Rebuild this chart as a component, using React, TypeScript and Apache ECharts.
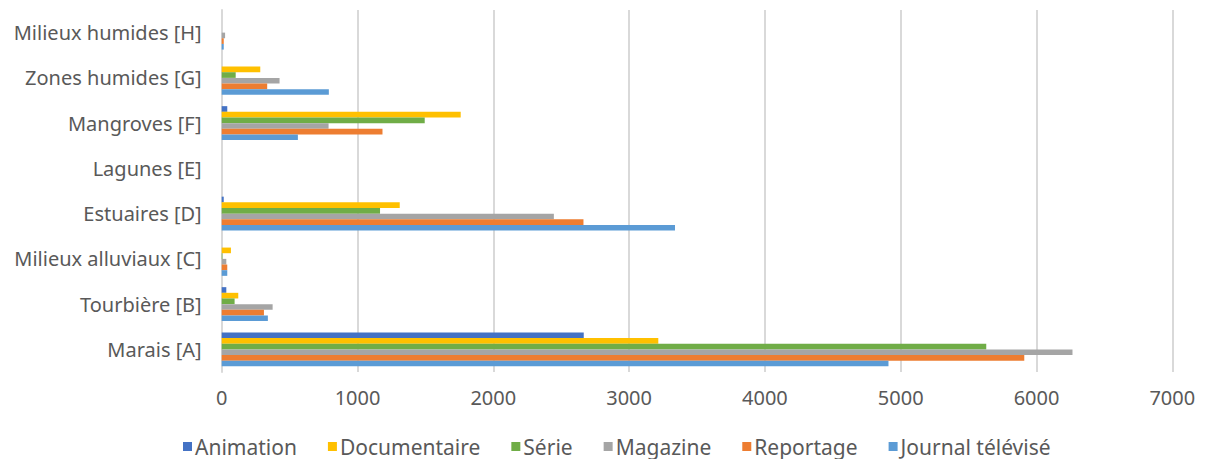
import React, { useEffect, useRef } from "react";
import * as echarts from "echarts";

const categories = [
  "Marais [A]",
  "Tourbière [B]",
  "Milieux alluviaux [C]",
  "Estuaires [D]",
  "Lagunes [E]",
  "Mangroves [F]",
  "Zones humides [G]",
  "Milieux humides [H]",
];

const animation = [2666, 34, 0, 15, 0, 41, 0, 0];
const documentaire = [3215, 122, 68, 1311, 0, 1760, 284, 0];
const serie = [5630, 95, 5, 1166, 0, 1495, 103, 0];
const magazine = [6265, 375, 34, 2446, 0, 787, 426, 25];
const reportage = [5910, 311, 41, 2664, 0, 1184, 335, 15];
const journal = [4910, 340, 41, 3338, 0, 561, 789, 15];

const seriesNames = ["Animation", "Documentaire", "Série", "Magazine", "Reportage", "Journal télévisé"];
const seriesData = [animation, documentaire, serie, magazine, reportage, journal];
const colors = ["#4472C4", "#FFC000", "#70AD47", "#A5A5A5", "#ED7D31", "#5B9BD5"];

const FONT = "Noto Sans";

export default function App() {
  const ref = useRef<HTMLDivElement>(null);
  useEffect(() => {
    if (!ref.current) return;
    const chart = echarts.init(ref.current, null, { renderer: "svg" });
    chart.setOption({
      animation: false,
      legend: {
        data: seriesNames,
        left: 178,
        bottom: -3,
        itemWidth: 9,
        itemHeight: 9,
        itemGap: 31,
        icon: "rect",
        textStyle: { fontFamily: FONT, fontSize: 21, color: "#595959", padding: [0, 0, 0, -2] },
      },
      grid: { left: 221.7, right: 32.7, top: 10, bottom: 87 },
      xAxis: {
        type: "value",
        min: 0,
        max: 7000,
        interval: 1000,
        axisLine: { show: false },
        axisTick: { show: false },
        splitLine: { lineStyle: { color: "#D9D9D9", width: 2 } },
        axisLabel: {
          fontFamily: FONT,
          fontSize: 20,
          color: "#595959",
          margin: 15,
          formatter: (v: number) => String(v),
        },
      },
      yAxis: {
        type: "category",
        data: categories,
        axisLine: { show: true, lineStyle: { color: "#D9D9D9", width: 2 } },
        axisTick: { show: false },
        axisLabel: { fontFamily: FONT, fontSize: 20, color: "#595959", margin: 20 },
      },
      series: seriesNames.map((name, i) => ({
        name,
        type: "bar",
        data: seriesData[i],
        barGap: "0%",
        barCategoryGap: "25%",
        itemStyle: { color: colors[i] },
      })),
    });
    return () => chart.dispose();
  }, []);
  return <div ref={ref} style={{ position: "absolute", left: 0, top: 0, width: 1205, height: 459 }} />;
}
